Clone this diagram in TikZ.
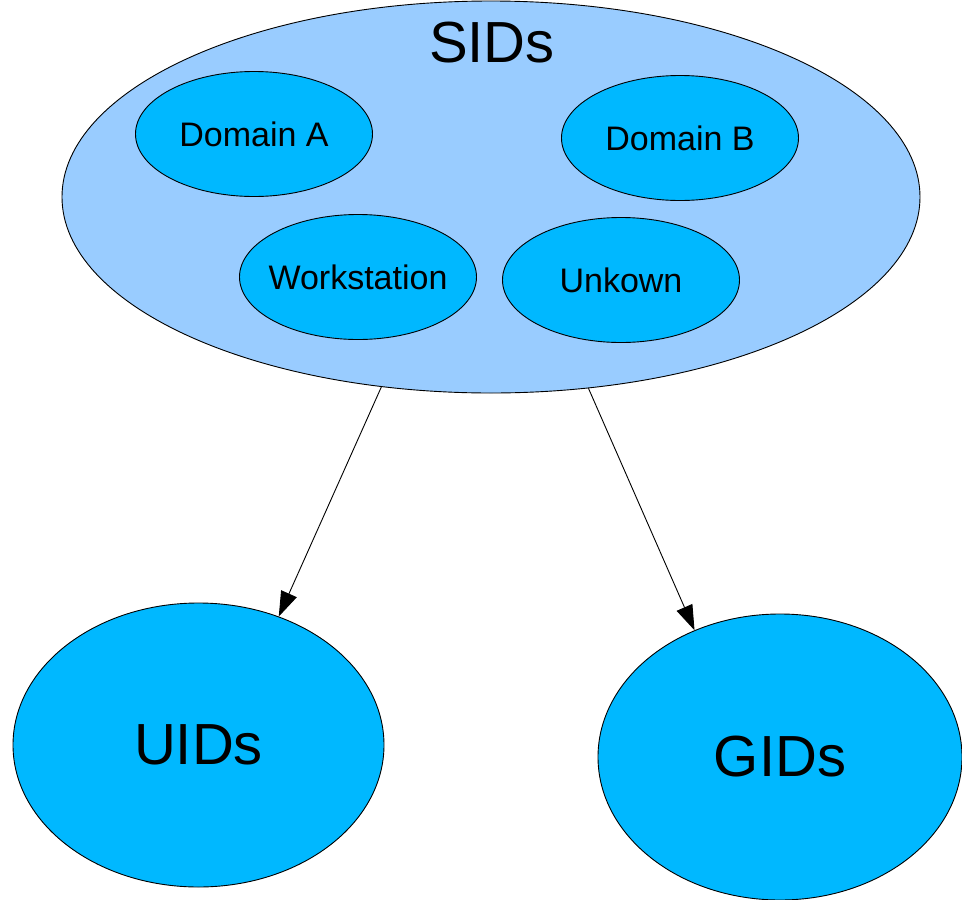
\documentclass[tikz,border=0pt]{standalone}
\usepackage{fontspec}
\setmainfont{Liberation Sans}
\usetikzlibrary{shapes.geometric,arrows.meta}
\definecolor{outerblue}{HTML}{99CCFF}
\definecolor{innerblue}{HTML}{00B8FF}
\begin{document}
\begin{tikzpicture}[x=1pt,y=-1pt,
  blob/.style={ellipse,draw=black,line width=0.9pt,inner sep=0pt,fill=innerblue},
  small/.style={blob,minimum width=237pt,minimum height=125pt},
  smalltext/.style={font=\fontsize{34}{40}\selectfont,inner sep=0pt},
  big/.style={blob,font=\fontsize{58}{68}\selectfont},
  link/.style={line width=0.9pt,-{Triangle[length=25pt,width=17pt]}}]
\useasboundingbox (0,0) rectangle (962,900);
\node[blob,fill=outerblue,minimum width=858pt,minimum height=392pt] (sids) at (491,197) {};
\node[font=\fontsize{58}{68}\selectfont,anchor=base] (sidslabel) at (492,62) {SIDs};
\node[small] (doma) at (254,134) {};
\node[smalltext] (domatext) at (doma.center) {Domain A};
\node[small] (domb) at (680,138) {};
\node[smalltext] (dombtext) at (domb.center) {Domain B};
\node[small] (ws) at (358,277) {};
\node[smalltext] (wstext) at (ws.center) {Workstation};
\node[small] (unk) at (621,280) {};
\node[smalltext] (unktext) at (unk.center) {Unkown};
\node[big,minimum width=371pt,minimum height=284pt] (uids) at (198.5,745) {UIDs};
\node[big,minimum width=364pt,minimum height=286pt] (gids) at (780,757) {GIDs};
\draw[link] (sids.240) -- (uids.58);
\draw[link] (sids.297) -- (gids.124);
\end{tikzpicture}
\end{document}
